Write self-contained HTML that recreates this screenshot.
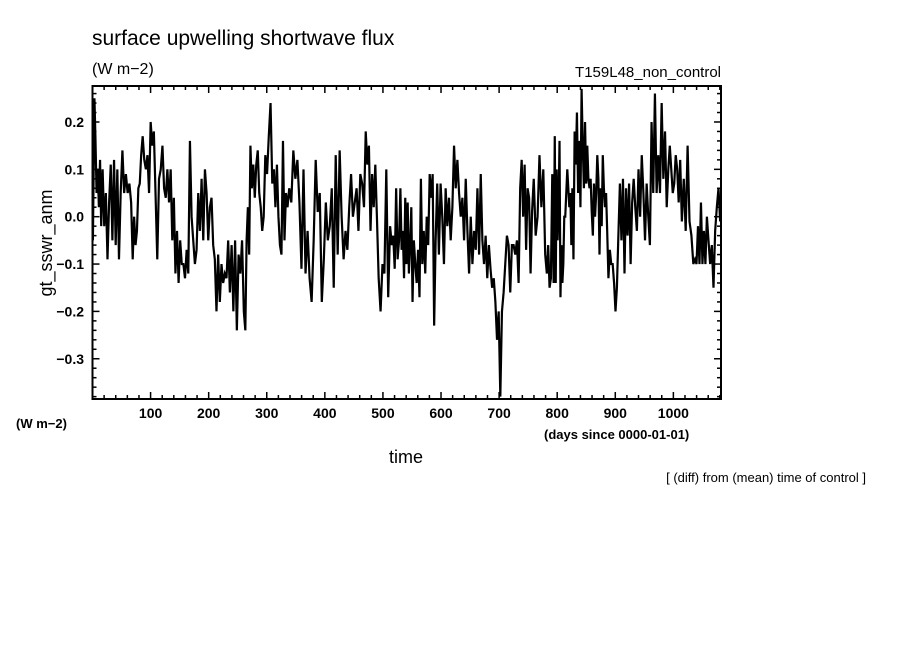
<!DOCTYPE html>
<html><head><meta charset="utf-8"><style>
html,body{margin:0;padding:0;background:#fff;}
svg{display:block;font-family:"Liberation Sans","DejaVu Sans",sans-serif;}
</style></head><body>
<svg id="chart" width="904" height="654" viewBox="0 0 904 654" xmlns="http://www.w3.org/2000/svg">
<rect width="904" height="654" fill="#fff"/>
<text x="92" y="45" font-size="21">surface upwelling shortwave flux</text>
<text x="92" y="74" font-size="16">(W m−2)</text>
<text x="721" y="77" font-size="15" text-anchor="end">T159L48_non_control</text>
<text x="52" y="243" font-size="18" text-anchor="middle" transform="rotate(-90 52 243)">gt_sswr_anm</text>
<text x="16" y="428" font-size="13" font-weight="bold">(W m−2)</text>
<text x="406" y="463" font-size="18" text-anchor="middle">time</text>
<text x="544" y="439" font-size="13" font-weight="bold">(days since 0000-01-01)</text>
<text x="866" y="482" font-size="13" text-anchor="end">[ (diff) from (mean) time of control ]</text>
<g id="ticks"></g>
<g id="series"></g>
<rect x="92.5" y="86" width="628.5" height="313" fill="none" stroke="#000" stroke-width="2"/>
</svg>
<script>
const xTicks = [100,200,300,400,500,600,700,800,900,1000];
const yTicks = [0.2,0.1,0.0,-0.1,-0.2,-0.3];
const yTickLabels = ["0.2","0.1","0.0","−0.1","−0.2","−0.3"];
const segStart = [0,4,16,30,47,68,85,107,119,136,155,172,195,212,235,262,273,296,311,337,365,400,434,469,491,514,529,552,569,592,621,644,667,695,712,735,758,781,795,813,827,847,870,887,904,933,961,990,1013,1036,1059];
const segEnd = 1082;
const segVals = [
[-0.05,0.1,0.25],
[0.17,0.05,0.1,0.02,0.12,-0.02],
[0.1,-0.02,0.05,-0.09,0.03],
[0.11,-0.05,0.12,-0.06,0.1,-0.09],
[0.05,0.14,0.05,0.09,0.05,0.07,0.03],
[-0.09,0,-0.06,-0.03,0.06,0.07,0.13],
[0.17,0.12,0.1,0.13,0.05,0.2,0.15,0.18],
[0.05,-0.09,0.08,0.1],
[0.15,0.06,0.04,0.1,0.03,0.1],
[-0.05,0.04,-0.12,-0.03,-0.14,-0.05,-0.1],
[-0.1,-0.13,-0.07,-0.12,0.16,0.0],
[-0.05,-0.1,-0.07,0.05,-0.03,0.08,-0.05,0.1],
[0.05,-0.05,0.02,0.04,-0.06,-0.09],
[-0.2,-0.08,-0.18,-0.1,-0.14,-0.12,-0.13,-0.05],
[-0.16,-0.06,-0.2,-0.05,-0.24,-0.08,-0.12,-0.05,-0.2],
[-0.24,-0.05,0.02,-0.08,0.15],
[0.06,0.11,0.04,0.11,0.14,0.05,0.02,-0.03,0.0],
[0.13,0.09,0.17,0.24,0.07],
[0.1,0.02,0.11,0.0,-0.06,-0.08,0.16,-0.05,0.05,0.02],
[0.06,0.03,0.14,0.08,0.12,0.03,-0.11,0.1],
[-0.12,-0.03,-0.13,-0.18,-0.05,0.12,0.01,0.05,-0.18,-0.09],
[0.03,-0.05,-0.02,0.06,-0.15,0.13,-0.08,0.14,0.0,-0.09],
[-0.03,-0.07,0.02,0.09,0.0,0.03,0.06,-0.03,0.09,0.07,0.02],
[0.18,0.11,0.15,-0.03,0.09,0.02,0.11,0.0],
[-0.13,-0.2,-0.1,-0.12,0.1,-0.17,-0.02],
[-0.06,-0.04,-0.11,0.06,-0.09,-0.05],
[0.06,-0.07,-0.03,-0.13,0.04,-0.1,0.03,-0.12,-0.06,0.02,-0.18],
[-0.05,-0.1,-0.14,-0.07,-0.17,0.08,-0.1],
[-0.03,-0.12,0.0,-0.06,0.09,0.04,0.09,-0.23,-0.05],
[0.07,-0.08,0.07,0.0,-0.1,0.06,-0.02,0.04,-0.05,0.02],
[0.15,0.06,0.12,0.05,0.0,0.04,-0.05,0.08],
[-0.03,-0.12,0.0,-0.1,-0.03,-0.07,0.06,-0.08],
[0.09,-0.05,-0.1,-0.04,-0.13,-0.06,-0.11,-0.15,-0.13,-0.18],
[-0.26,-0.2,-0.38,-0.2,-0.16,-0.1],
[-0.04,-0.06,-0.16,-0.06,-0.06,-0.08,-0.05,-0.14],
[0.06,0.12,0.0,0.11,-0.07,0.06,0.04,-0.12,0.01],
[0.08,-0.04,0.0,0.13,0.02,0.1,-0.08],
[-0.12,-0.06,-0.15,-0.13,0.09,-0.14],
[0.17,-0.14,0.1,-0.05,0.02,0.16,-0.17,-0.06,-0.14,-0.1,0.0],
[0.0,0.05,0.1,0.06,0.02,0.05,-0.06,0.06],
[-0.09,0.18,0.11,0.22,0.05,0.16,0.02,0.27,0.15,0.06],
[0.2,0.07,0.15,0.08,0.06,0.08,0.01,-0.04,0.07,0.0,0.05,0.13],
[0.08,-0.08,0.06,-0.02,0.13,0.06,0.02,0.05,-0.03],
[-0.13,-0.07,-0.1,-0.1,-0.14,-0.2,-0.15],
[-0.04,0.07,-0.05,0.08,-0.12,0.06,-0.04,0.07,-0.1,0.03,0.08],
[0.02,-0.03,0.1,0.0,0.13,0.05,-0.05,0.07,0.0,-0.06],
[0.2,0.05,0.26,0.05,0.13,0.05,0.24,0.08,0.18,0.02],
[0.1,0.15,0.1,0.05,0.07,0.13,0.1,0.03,0.12],
[-0.01,0.08,-0.03,0.15,-0.01,-0.04,-0.1],
[-0.09,-0.1,-0.02,-0.1,0.03,-0.1,-0.03,-0.1,0.0],
[-0.05,-0.1,-0.06,-0.15,-0.03,0.02,0.06,-0.01]
];

const NS = "http://www.w3.org/2000/svg";
const L = 92.5, R = 721, T = 86, B = 399;
const xMin = 0, xMax = 1082, yMin = -0.385, yMax = 0.276;
function xs(d){ return L + (d - xMin) / (xMax - xMin) * (R - L); }
function ys(v){ return B - (v - yMin) / (yMax - yMin) * (B - T); }

const tg = document.getElementById('ticks');
function line(x1,y1,x2,y2,w){
  const l = document.createElementNS(NS,'line');
  l.setAttribute('x1',x1); l.setAttribute('y1',y1); l.setAttribute('x2',x2); l.setAttribute('y2',y2);
  l.setAttribute('stroke','#000'); l.setAttribute('stroke-width',w||1.5);
  tg.appendChild(l); return l;
}
// minor ticks x every 20 days
for (let d = 20; d < xMax; d += 20) {
  const major = d % 100 === 0;
  const len = major ? 7 : 4;
  const x = xs(d);
  const a = line(x,B,x,B-len);
  
  
  const b = line(x,T,x,T+len);
  
  
}
// minor ticks y every 0.02
for (let k = -19; k <= 13; k++) {
  const v = k * 0.02;
  const major = k % 5 === 0;
  const len = major ? 7 : 4;
  const y = ys(v);
  const a = line(L,y,L+len,y);
  
  
  const b = line(R,y,R-len,y);
  
  
}
xTicks.forEach(d => {
  const t = document.createElementNS(NS,'text');
  t.setAttribute('x', xs(d)); t.setAttribute('y', 418);
  t.setAttribute('text-anchor','middle'); t.setAttribute('font-size','14'); t.setAttribute('font-weight','bold');
  t.textContent = String(d);
  
  
  tg.appendChild(t);
});
yTicks.forEach((v,i) => {
  const t = document.createElementNS(NS,'text');
  t.setAttribute('x', 84); t.setAttribute('y', ys(v) + 5);
  t.setAttribute('text-anchor','end'); t.setAttribute('font-size','14'); t.setAttribute('font-weight','bold');
  t.textContent = yTickLabels[i];
  
  
  tg.appendChild(t);
});

// series
const pts = [];
segVals.forEach((vals, i) => {
  const s = segStart[i];
  const e = i + 1 < segStart.length ? segStart[i+1] : segEnd;
  const n = vals.length;
  vals.forEach((v, j) => {
    const d = s + (e - s) * (j + 0.5) / n;
    pts.push([xs(d), ys(v)]);
  });
});
const sg = document.getElementById('series');
const clip = document.createElementNS(NS,'clipPath');
clip.setAttribute('id','plotclip');
const cr = document.createElementNS(NS,'rect');
cr.setAttribute('x',L); cr.setAttribute('y',T); cr.setAttribute('width',R-L); cr.setAttribute('height',B-T);
clip.appendChild(cr);
sg.appendChild(clip);
const p = document.createElementNS(NS,'polyline');
p.setAttribute('points', pts.map(q => q[0].toFixed(2)+','+q[1].toFixed(2)).join(' '));
p.setAttribute('fill','none'); p.setAttribute('stroke','#000'); p.setAttribute('stroke-width','2.2');
p.setAttribute('stroke-linejoin','miter');
p.setAttribute('clip-path','url(#plotclip)');


sg.appendChild(p);
</script>
</body></html>
